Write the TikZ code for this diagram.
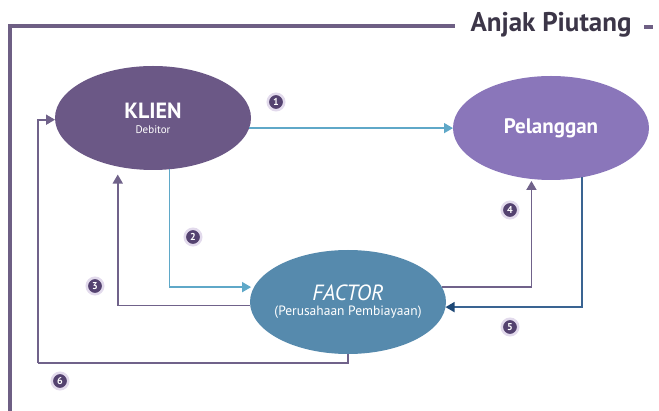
\documentclass[tikz,border=0pt]{standalone}
\usepackage{fontspec}
\setmainfont{PT Sans}
\usetikzlibrary{shapes.geometric,arrows.meta}

\definecolor{klienfill}{RGB}{107,88,134}
\definecolor{pelfill}{RGB}{138,118,186}
\definecolor{factfill}{RGB}{86,138,173}
\definecolor{lightflow}{RGB}{95,168,200}
\definecolor{purpleflow}{RGB}{112,98,138}
\definecolor{darkflow}{RGB}{58,100,146}
\definecolor{darktip}{RGB}{30,72,118}
\definecolor{framepurple}{RGB}{110,95,132}
\definecolor{titlegray}{RGB}{60,54,72}
\definecolor{badgefill}{RGB}{84,66,112}
\definecolor{badgehalo}{RGB}{226,218,236}

\begin{document}
\begin{tikzpicture}[x=1pt,y=1pt,yscale=-1,xscale=1,
  blob/.style={ellipse,minimum width=196pt,minimum height=104pt,inner sep=0pt,outer sep=0pt},
  blobtext/.style={inner sep=0pt,text=white,align=center},
  flow/.style={line width=1.6pt,-{Triangle[width=10pt,length=9pt]}},
  badge/.style={circle,fill=badgefill,draw=badgehalo,line width=2.5pt,minimum size=16.5pt,inner sep=0pt,text=white,font=\bfseries\fontsize{10}{10}\selectfont},
  framed/.style={framepurple,line width=3.5pt}]
\useasboundingbox (0,0) rectangle (659,411);

%Shape: Frame
\draw [framed] (10,411) -- (10,26) -- (455,26);
\draw [framed] (644,27) -- (653,27);
% Text Node
\node [anchor=center,inner sep=0pt,text=titlegray,font=\bfseries\fontsize{27}{27}\selectfont] (title) at (551,25) {Anjak Piutang};

%Shape: Ellipse
\node [blob,fill=klienfill] (klien) at (153,118) {};
\node [blobtext] (klientext) at (klien.center) {{\bfseries\fontsize{22}{22}\selectfont KLIEN}\\[3pt]{\fontsize{11}{12}\selectfont Debitor}};
%Shape: Ellipse
\node [blob,fill=pelfill] (pelanggan) at (551,128) {};
\node [blobtext] (peltext) at (pelanggan.center) {\bfseries\fontsize{21}{21}\selectfont Pelanggan};
%Shape: Ellipse
\node [blob,fill=factfill] (factor) at (348,302) {};
\node [blobtext] (facttext) at (factor.center) {{\itshape\fontsize{22}{22}\selectfont FACTOR}\\[3pt]{\fontsize{13.5}{14}\selectfont (Perusahaan Pembiayaan)}};

% Flows
\draw [flow,lightflow] (klien.-6) -- (klien.-6 -| pelanggan.west);
\draw [flow,lightflow,shorten >=3pt] (klien.-72) |- (factor.171.6);
\draw [flow,purpleflow,shorten >=8pt] (factor.182) -| (klien.234);
\draw [flow,purpleflow,shorten >=2pt] (factor.9.7) -| (pelanggan.249);
\draw [line width=1.6pt,darkflow,-{Triangle[width=10pt,length=9pt,color=darktip]}] (pelanggan.-58) |- (factor.-3.5);
\coordinate (loopcorner) at (38,363);
\draw [purpleflow,line width=1.6pt] (factor.south) |- (loopcorner);
\draw [flow,purpleflow] (loopcorner) |- (klien.181);

% Badges
\node [badge] (b1) at (276,102) {1};
\node [badge] (b2) at (193,237) {2};
\node [badge] (b3) at (95,286) {3};
\node [badge] (b4) at (510,210) {4};
\node [badge] (b5) at (510,327) {5};
\node [badge] (b6) at (60,381) {6};

\end{tikzpicture}
\end{document}
